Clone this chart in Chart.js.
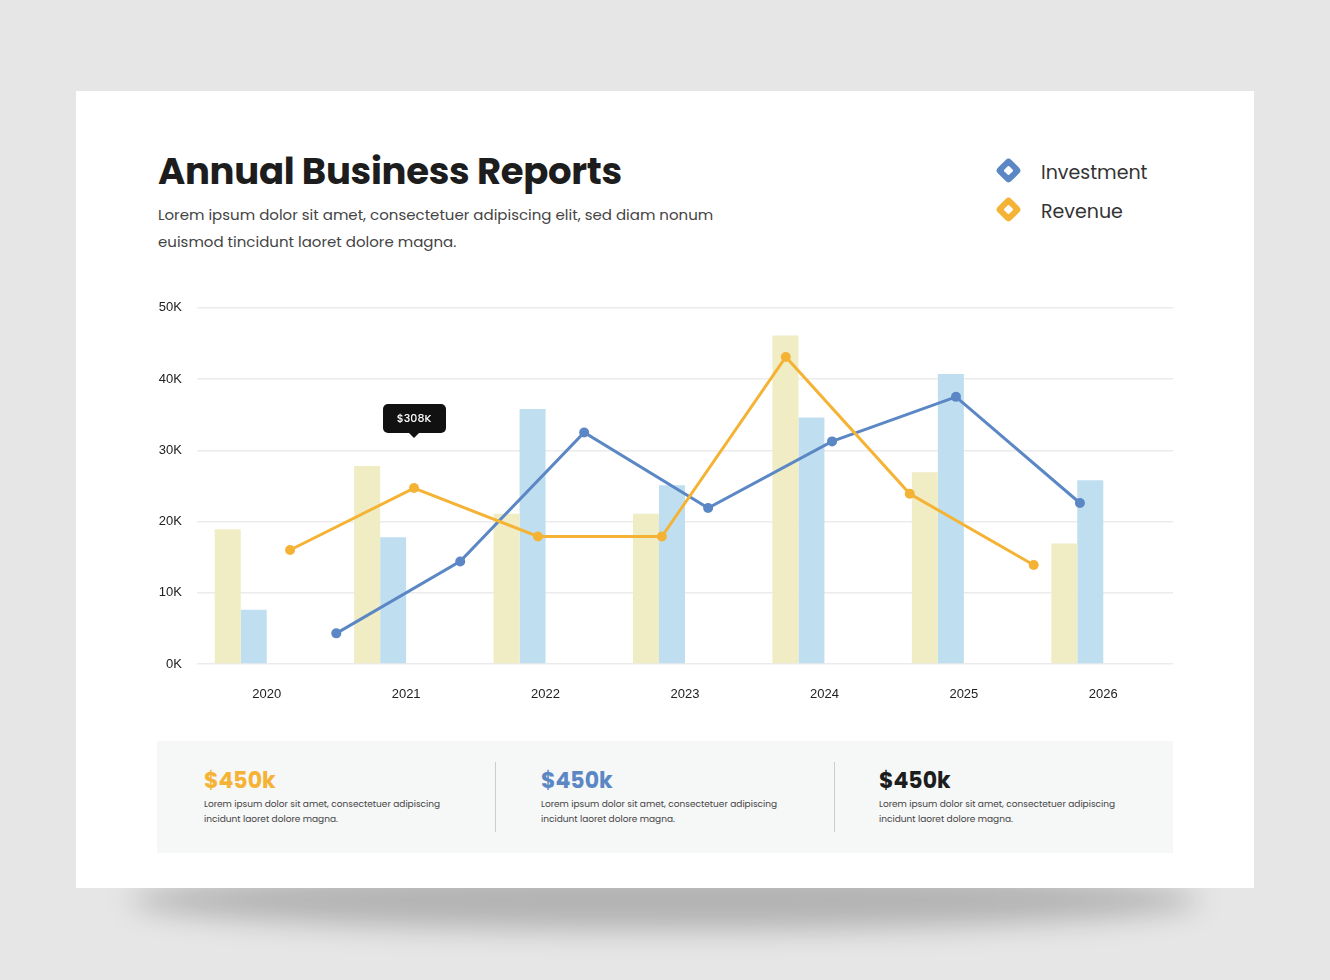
<!DOCTYPE html>
<html><head><meta charset="utf-8">
<script src="https://cdn.jsdelivr.net/npm/chart.js@4/dist/chart.umd.min.js"></script>
<style>
body{margin:0;width:1330px;height:980px;background:#e6e6e6;position:relative;font-family:"Poppins",Inter,Lato,sans-serif;overflow:hidden}
.shadow{position:absolute;left:130px;top:870px;width:1070px;height:60px;border-radius:50%;background:rgba(0,0,0,0.22);filter:blur(14px)}
.card{position:absolute;left:76px;top:91px;width:1178px;height:797px;background:#fff}
.abs{position:absolute}
h1{position:absolute;left:158px;top:143px;margin:0;font-size:37px;font-weight:700;color:#1d1d1d;letter-spacing:-0.3px}
.sub{left:158px;top:201px;font-size:15px;line-height:27px;color:#444;width:600px}
.dia{width:19px;height:19px;border-radius:4px;transform:rotate(45deg)}
.dia::after{content:"";position:absolute;left:6px;top:6px;width:7px;height:7px;background:#fff;border-radius:1px}
.leg{font-size:19px;color:#333}
.panel{left:157px;top:741px;width:1016px;height:112px;background:#f6f7f7}
.val{font-size:22px;font-weight:700}
.txt{font-size:9px;line-height:15px;color:#444}
.div{width:1px;height:70px;background:#ccc;top:762px}
canvas{position:absolute;left:140px;top:285px}
</style></head><body>
<div class="shadow"></div>
<div class="card"></div>
<h1>Annual Business Reports</h1>
<div class="abs sub">Lorem ipsum dolor sit amet, consectetuer adipiscing elit, sed diam nonum euismod tincidunt laoret dolore magna.</div>
<div class="abs dia" style="left:999px;top:161px;background:#5b87c5"></div>
<div class="abs leg" style="left:1041px;top:158px">Investment</div>
<div class="abs dia" style="left:999px;top:200px;background:#f5b335"></div>
<div class="abs leg" style="left:1041px;top:197px">Revenue</div>
<div class="abs panel"></div>
<div class="abs div" style="left:495px"></div>
<div class="abs div" style="left:834px"></div>
<div class="abs val" style="left:204px;top:764px;color:#f5b335">$450k</div>
<div class="abs txt" style="left:204px;top:797px">Lorem ipsum dolor sit amet, consectetuer adipiscing<br>incidunt laoret dolore magna.</div>
<div class="abs val" style="left:541px;top:764px;color:#5b87c5">$450k</div>
<div class="abs txt" style="left:541px;top:797px">Lorem ipsum dolor sit amet, consectetuer adipiscing<br>incidunt laoret dolore magna.</div>
<div class="abs val" style="left:879px;top:764px;color:#1d1d1d">$450k</div>
<div class="abs txt" style="left:879px;top:797px">Lorem ipsum dolor sit amet, consectetuer adipiscing<br>incidunt laoret dolore magna.</div>
<canvas id="c" width="1050" height="431" style="width:1050px;height:431px"></canvas>
<script>
const years=["2020","2021","2022","2023","2024","2025","2026"];
const revenueBars=[18.9,27.8,21.1,21.1,46.1,26.9,16.9];
const investmentBars=[7.6,17.8,35.8,25.1,34.6,40.7,25.8];
const revenueLine=[16.0,24.7,17.9,17.9,43.1,23.9,13.9];
const investmentLine=[4.3,14.4,32.5,21.9,31.25,37.5,22.6];
const yTicks=["0K","10K","20K","30K","40K","50K"];
const callout={index:1,text:"$308K"};
const CAT=0.746, OFF=CAT/4;
const pts=(arr,o)=>arr.map((v,i)=>({x:i+o,y:v}));
const calloutPlugin={id:'callout',afterDatasetsDraw(ch){
  const p=ch.getDatasetMeta(2).data[callout.index];const c=ch.ctx;
  const x=p.x, y=p.y-70;
  c.save();c.fillStyle='#111';
  c.beginPath();c.roundRect(x-31,y-14,63,29,5);c.fill();
  c.beginPath();c.moveTo(x-5,y+15);c.lineTo(x+5,y+15);c.lineTo(x,y+20);c.fill();
  c.fillStyle='#fff';c.font='500 11px Poppins, Inter, sans-serif';c.textAlign='center';c.textBaseline='middle';
  c.fillText(callout.text,x,y+1);c.restore();}};
new Chart(document.getElementById('c'),{
  type:'bar',
  data:{labels:years,datasets:[
    {type:'bar',data:revenueBars,backgroundColor:'#f0ecc4',categoryPercentage:CAT,barPercentage:1,order:3},
    {type:'bar',data:investmentBars,backgroundColor:'#bfdff0',categoryPercentage:CAT,barPercentage:1,order:3},
    {type:'line',xAxisID:'xl',data:pts(revenueLine,-OFF),borderColor:'#f5b335',backgroundColor:'#f5b335',borderWidth:3,pointRadius:5,pointBorderWidth:0,order:1},
    {type:'line',xAxisID:'xl',data:pts(investmentLine,OFF),borderColor:'#5b87c5',backgroundColor:'#5b87c5',borderWidth:3,pointRadius:5,pointBorderWidth:0,order:1}
  ]},
  options:{responsive:false,animation:false,
    layout:{padding:{top:14,right:17}},
    plugins:{legend:{display:false},tooltip:{enabled:false}},
    scales:{
      x:{grid:{display:false},border:{display:false},ticks:{color:'#222',font:{size:13,weight:'500'},padding:15},afterFit(s){s.height=52;}},
      xl:{type:'linear',display:false,min:-0.5,max:6.5},
      y:{min:0,max:50,ticks:{stepSize:10,padding:15,color:'#222',font:{size:13,weight:'500'},callback:(v)=>yTicks[v/10]},
        grid:{color:'#ebebeb',drawTicks:false,lineWidth:1.5},border:{display:false},afterFit(s){s.width=57;}}
    }},
  plugins:[calloutPlugin]
});
</script></body></html>
